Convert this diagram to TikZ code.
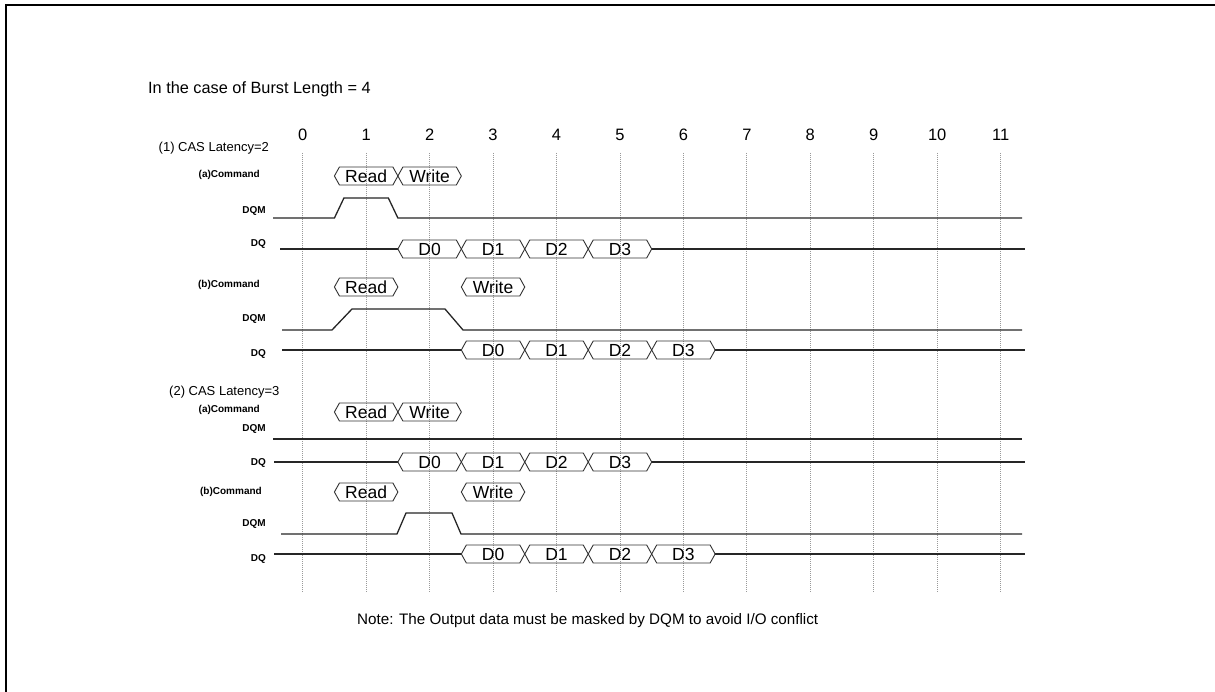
\documentclass[tikz,border=0pt]{standalone}
\usepackage{fontspec}
\setmainfont{Liberation Sans}
\newcommand\gx[1]{(302.7+63.45*(#1))}
\def\hxs{5}
\def\hxh{9}
\newcommand\hexb[5]{%
  \draw[hexline] ({\gx{#2}},{#4}) -- ({\gx{#2}+\hxs},{#4-\hxh}) -- ({\gx{#3}-\hxs},{#4-\hxh}) -- ({\gx{#3}},{#4}) -- ({\gx{#3}-\hxs},{#4+\hxh}) -- ({\gx{#2}+\hxs},{#4+\hxh}) -- cycle;
  \node[boxtxt] (#1) at ({(\gx{#2}+\gx{#3})/2},{#4}) {#5};}
\begin{document}
\begin{tikzpicture}[x=1pt,y=-1pt,
  sig/.style={draw=black!85, line width=1.3pt},
  hexline/.style={draw=black!80, line width=0.9pt, line join=miter},
  gridline/.style={draw=black!40, line width=0.8pt, dash pattern=on 1pt off 1pt},
  boxtxt/.style={inner sep=0pt, font=\fontsize{17.5}{19}\selectfont},
  num/.style={inner sep=0pt, font=\fontsize{16.5}{18}\selectfont},
  lab/.style={anchor=east, inner sep=0pt, font=\bfseries\fontsize{10}{12}\selectfont},
  cas/.style={anchor=west, inner sep=0pt, font=\fontsize{13}{15}\selectfont},
  txt/.style={anchor=west, inner sep=0pt, font=\fontsize{16.3}{18}\selectfont},
  notetxt/.style={anchor=west, inner sep=0pt, font=\fontsize{15.2}{17}\selectfont}]
\useasboundingbox (0,0) rectangle (1215,692);
\fill[white] (0,0) rectangle (1215,692);
% frame (only top and left edges visible)
\draw[line width=2pt, black] (6,692) -- (6,5) -- (1215,5);
% title
\node[txt] (title) at (148,89) {In the case of Burst Length = 4};
% clock numbers and grid
\foreach \i in {0,...,11} {
  \node[num] (n\i) at ({\gx{\i}},135) {\i};
  \draw[gridline] ({\gx{\i}},153) -- ({\gx{\i}},592);
}
% ---------- (1) CAS Latency = 2
\node[cas] (cas2) at (158.5,148) {(1) CAS Latency=2};
% (a)
\node[lab] (cmd1a) at (260,175) {(a)Command};
\node[lab] (dqm1a) at (266,211) {DQM};
\node[lab] (dq1a) at (266,244) {DQ};
\hexb{r1a}{0.5}{1.5}{176}{Read}
\hexb{w1a}{1.5}{2.5}{176}{Write}
\draw[sig] (273,218) -- ({\gx{0.5}},218) -- ({\gx{0.65}},198) -- ({\gx{1.35}},198) -- ({\gx{1.5}},218) -- (1022,218);
\draw[sig] (280,249) -- ({\gx{1.5}},249);
\hexb{d0a}{1.5}{2.5}{249}{D0}
\hexb{d1a}{2.5}{3.5}{249}{D1}
\hexb{d2a}{3.5}{4.5}{249}{D2}
\hexb{d3a}{4.5}{5.5}{249}{D3}
\draw[sig] ({\gx{5.5}},249) -- (1025,249);
% (b)
\node[lab] (cmd1b) at (260,285) {(b)Command};
\node[lab] (dqm1b) at (266,319) {DQM};
\node[lab] (dq1b) at (266,354) {DQ};
\hexb{r1b}{0.5}{1.5}{287}{Read}
\hexb{w1b}{2.5}{3.5}{287}{Write}
\draw[sig] (282,330) -- (332,330) -- (352,309) -- (445,309) -- (463,330) -- (1022,330);
\draw[sig] (282,350) -- ({\gx{2.5}},350);
\hexb{d0b}{2.5}{3.5}{350}{D0}
\hexb{d1b}{3.5}{4.5}{350}{D1}
\hexb{d2b}{4.5}{5.5}{350}{D2}
\hexb{d3b}{5.5}{6.5}{350}{D3}
\draw[sig] ({\gx{6.5}},350) -- (1025,350);
% ---------- (2) CAS Latency = 3
\node[cas] (cas3) at (169,392) {(2) CAS Latency=3};
% (a)
\node[lab] (cmd2a) at (260,410) {(a)Command};
\node[lab] (dqm2a) at (266,429) {DQM};
\node[lab] (dq2a) at (266,463) {DQ};
\hexb{r2a}{0.5}{1.5}{412}{Read}
\hexb{w2a}{1.5}{2.5}{412}{Write}
\draw[sig] (273,439) -- (1022,439);
\draw[sig] (274,462) -- ({\gx{1.5}},462);
\hexb{d0c}{1.5}{2.5}{462}{D0}
\hexb{d1c}{2.5}{3.5}{462}{D1}
\hexb{d2c}{3.5}{4.5}{462}{D2}
\hexb{d3c}{4.5}{5.5}{462}{D3}
\draw[sig] ({\gx{5.5}},462) -- (1025,462);
% (b)
\node[lab] (cmd2b) at (262,492) {(b)Command};
\node[lab] (dqm2b) at (266,524) {DQM};
\node[lab] (dq2b) at (266,559) {DQ};
\hexb{r2b}{0.5}{1.5}{492}{Read}
\hexb{w2b}{2.5}{3.5}{492}{Write}
\draw[sig] (281,534) -- (397,534) -- (406,513) -- (452,513) -- (461,534) -- (1022,534);
\draw[sig] (274,554) -- ({\gx{2.5}},554);
\hexb{d0d}{2.5}{3.5}{554}{D0}
\hexb{d1d}{3.5}{4.5}{554}{D1}
\hexb{d2d}{4.5}{5.5}{554}{D2}
\hexb{d3d}{5.5}{6.5}{554}{D3}
\draw[sig] ({\gx{6.5}},554) -- (1025,554);
% note
\node[notetxt] (note) at (357,621) {Note: The Output data must be masked by DQM to avoid I/O conflict};
\end{tikzpicture}
\end{document}
